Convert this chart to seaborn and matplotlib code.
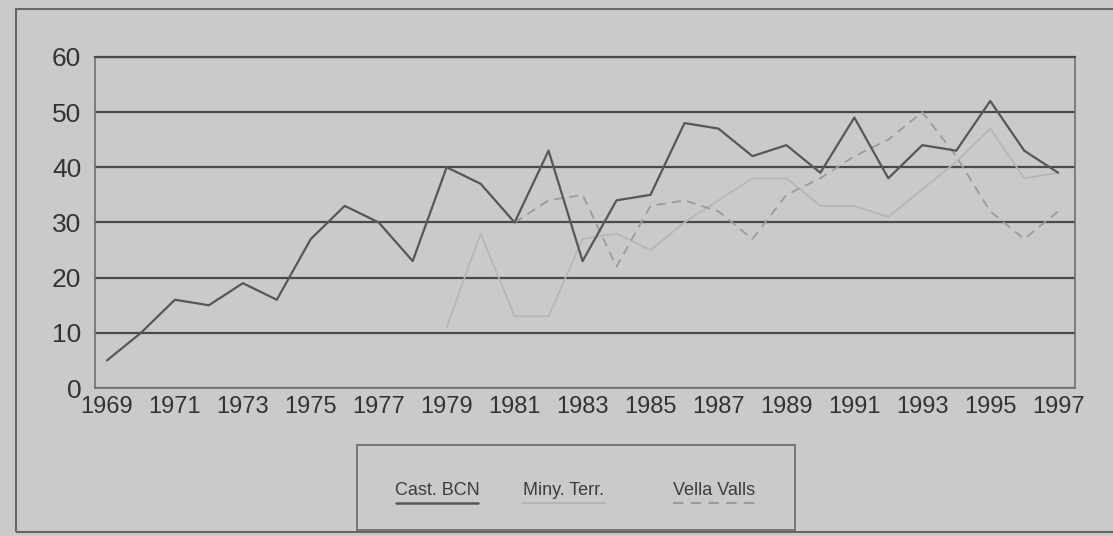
import matplotlib.pyplot as plt
import seaborn as sns
import pandas as pd
import numpy as np
from matplotlib.patches import Rectangle
from matplotlib.lines import Line2D

# Data
years = list(range(1969, 1998))
cast_bcn = [5, 10, 16, 15, 19, 16, 27, 33, 30, 23, 40, 37, 30, 43, 23, 34, 35, 48, 47, 42,
            44, 39, 49, 38, 44, 43, 52, 43, 39]
miny_terr = [np.nan] * 10 + [11, 28, 13, 13, 27, 28, 25, 30, 34, 38,
                             38, 33, 33, 31, 36, 41, 47, 38, 39]
vella_valls = [np.nan] * 12 + [30, 34, 35, 22, 33, 34, 32, 27, 35, 38,
                               42, 45, 50, 42, 32, 27, 32]
series_names = ['Cast. BCN', 'Miny. Terr.', 'Vella Valls']
y_ticks = [0, 10, 20, 30, 40, 50, 60]
x_ticks = list(range(1969, 1998, 2))

colors = {'Cast. BCN': '#565757', 'Miny. Terr.': '#b4b6b5', 'Vella Valls': '#9a9c9b'}
dashes = {'Cast. BCN': '', 'Miny. Terr.': '', 'Vella Valls': (5, 3.5)}
widths = {'Cast. BCN': 1.6, 'Miny. Terr.': 1.2, 'Vella Valls': 1.3}

df = pd.DataFrame({'year': years, 'Cast. BCN': cast_bcn,
                   'Miny. Terr.': miny_terr, 'Vella Valls': vella_valls})
long_df = df.melt(id_vars='year', var_name='serie', value_name='value').dropna()

bg = '#c9cbca'
sns.set_style('white')
plt.rcParams['font.family'] = ['Liberation Sans', 'DejaVu Sans']

fig = plt.figure(figsize=(11.13, 5.36), dpi=100, facecolor=bg)
ax = fig.add_axes([0.0854, 0.276, 0.8806, 0.618])
ax.set_facecolor(bg)

# draw lighter series first so Cast. BCN sits on top
for name in ['Miny. Terr.', 'Vella Valls', 'Cast. BCN']:
    sub = long_df[long_df['serie'] == name]
    sns.lineplot(data=sub, x='year', y='value', ax=ax, color=colors[name],
                 linewidth=widths[name], legend=False)
    if dashes[name]:
        ax.lines[-1].set_dashes(dashes[name])

ax.set_ylim(0, 60)
ax.set_xlim(1968.65, 1997.5)
ax.set_yticks(y_ticks)
ax.set_xticks(x_ticks)
ax.set_xticklabels([str(y) for y in x_ticks], fontsize=17, color='#333333')
ax.set_yticklabels([str(v) for v in y_ticks], fontsize=19, color='#333333')
ax.tick_params(axis='both', length=0)
ax.tick_params(axis='x', pad=6)
ax.tick_params(axis='y', pad=10)
ax.set_xlabel('')
ax.set_ylabel('')

# horizontal gridlines
ax.yaxis.grid(True, color='#4a4a4a', linewidth=1.6)
ax.xaxis.grid(False)
ax.set_axisbelow(True)
for side in ['left', 'right', 'bottom']:
    ax.spines[side].set_color('#707070')
    ax.spines[side].set_linewidth(1.2)
ax.spines['top'].set_color('#4a4a4a')
ax.spines['top'].set_linewidth(1.6)

# outer frame of the figure
fig.patches.append(Rectangle((0.014, 0.008), 1.2, 0.975, transform=fig.transFigure,
                             fill=False, edgecolor='#666666', linewidth=1.5))

# legend box with samples under the labels
fig.patches.append(Rectangle((0.3208, 0.0112), 0.3935, 0.1586, transform=fig.transFigure,
                             fill=False, edgecolor='#6e6e6e', linewidth=1.3))
label_x = [0.3926, 0.5062, 0.6420]
for name, lx in zip(series_names, label_x):
    fig.text(lx, 0.0858, name, ha='center', va='center', fontsize=13, color='#3c3c3c')
    ln = Line2D([lx - 0.037, lx + 0.037], [0.0610, 0.0610], transform=fig.transFigure,
                color=colors[name], linewidth=widths[name] + 0.2)
    if dashes[name]:
        ln.set_dashes(dashes[name])
    fig.lines.append(ln)

plt.savefig('out.png', dpi=100, facecolor=bg)
plt.close()
print("Saved: out.png")
